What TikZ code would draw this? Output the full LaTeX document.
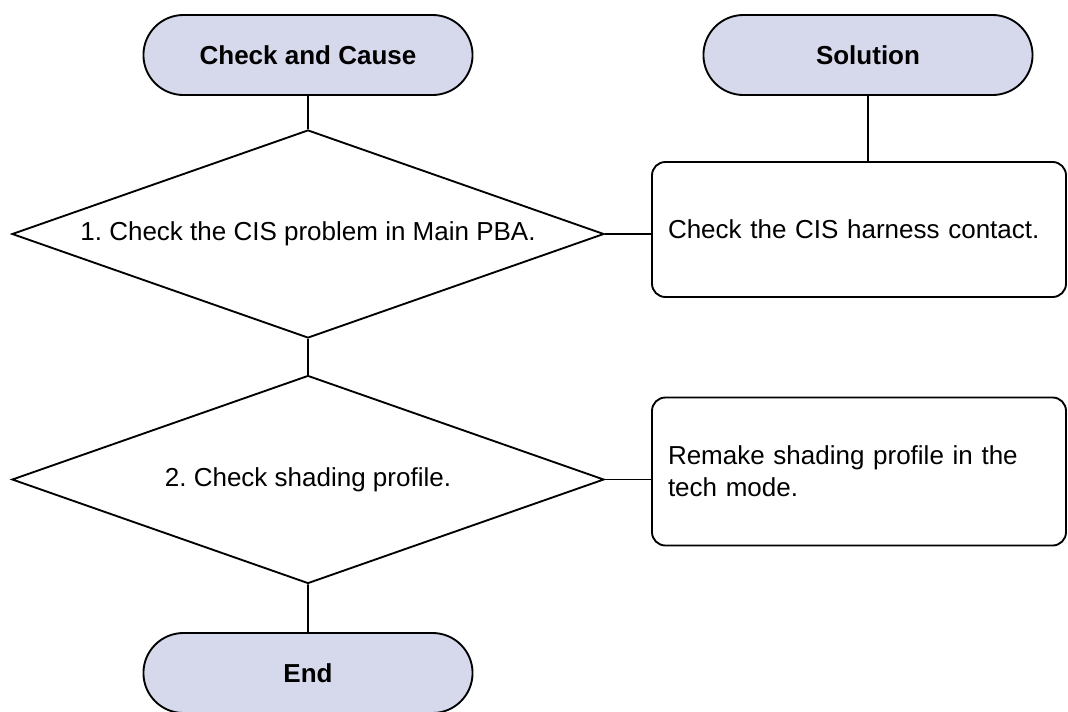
\documentclass[tikz,border=0pt]{standalone}
\usepackage{fontspec}
\setmainfont{Liberation Sans}
\usetikzlibrary{shapes.geometric,shapes.misc}
\definecolor{headfill}{RGB}{214,216,236}
\frenchspacing

\begin{document}
\begin{tikzpicture}[x=0.75pt, y=0.75pt, line width=1.4pt,
		term/.style={rounded rectangle, draw, fill=headfill, minimum width=253.5pt, minimum height=60pt, font=\fontsize{19.5}{24}\selectfont\bfseries},
		check/.style={diamond, draw, aspect=2.85, inner sep=0pt, minimum width=444pt, minimum height=156pt, font=\fontsize{19.5}{24}\selectfont},
		fix/.style={rectangle, draw, rounded corners=10pt, text width=286.5pt, inner xsep=12pt, align=left, font=\fontsize{19.5}{24}\selectfont}]
		% 1. Fix the page size
		\useasboundingbox (0,0) rectangle (1068,-711);

		% 2. Column heads
		\node[term] (cause) at (308,-55) {Check and Cause};
		\node[term] (solution) at (868,-55) {Solution};

		% 3. Checks (left column)
		\node[check] (d1) at (308,-234) {1. Check the CIS problem in Main PBA.};
		\node[check] (d2) at (308,-479.5) {2. Check shading profile.};
		\node[term] (end) at (308,-673) {End};

		% 4. Solutions (right column)
		\node[fix, minimum height=101.25pt] (r1) at (859,-229.5) {Check the CIS harness contact.};
		\node[fix, minimum height=111pt] (r2) at (859,-471.5) {Remake shading profile in the tech mode.};

		% 5. Connectors
		\draw (cause) -- (d1);
		\draw (d1) -- (d2);
		\draw (d2) -- (end);
		\draw (solution.south) -- (solution.south |- r1.north);
		\draw (d1.east) -- (d1.east -| r1.west);
		\draw (d2.east) -- (d2.east -| r2.west);
	\end{tikzpicture}
\end{document}
